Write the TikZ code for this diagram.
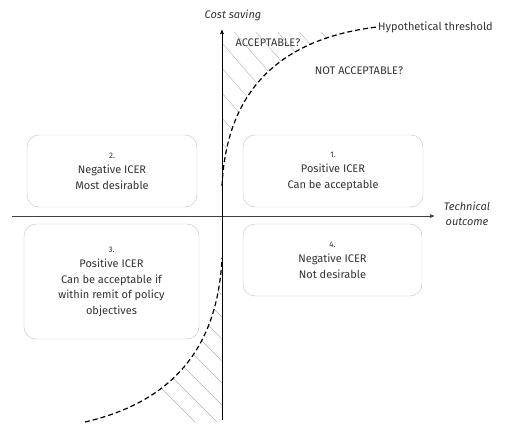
\documentclass[tikz,border=0pt]{standalone}
\usepackage{fontspec}
\setmainfont{Fira Sans}
\usetikzlibrary{arrows,positioning}

\begin{document}
\begin{tikzpicture}[x=1pt,y=-1pt,
	  every node/.style={align=center,text=black!80,font=\fontsize{11}{15.5}\selectfont},
	  quadrant/.style={draw=black!25,rounded corners=12pt,inner sep=0pt},
	  num/.style={font=\fontsize{8}{10}\selectfont},
	  axislabel/.style={font=\fontsize{11}{15}\selectfont\itshape},
	  axis/.style={->,>=stealth',semithick},
	  threshold/.style={line width=1.2pt,dash pattern=on 5pt off 3pt},
	  hatch/.style={draw=black!30,thin}]

	  \useasboundingbox (0,0) rectangle (527,439);

	  % axes
	  \coordinate (ybot) at (222,420);
	  \coordinate (ytop) at (222,30);
	  \coordinate (xleft) at (12,216);
	  \coordinate (xright) at (434,216);
	  \coordinate (cup) at (222,186);
	  \coordinate (clow) at (222,258);
	  \coordinate (cstart) at (85,422);

	  % quadrant boxes
	  \node[quadrant,minimum width=180pt,minimum height=72pt] (box1) at (333,171)
	    {{\fontsize{8}{10}\selectfont 1.}\\Positive ICER\\Can be acceptable};
	  \node[quadrant,minimum width=170pt,minimum height=72pt] (box2) at (112,171)
	    {{\fontsize{8}{10}\selectfont 2.}\\Negative ICER\\Most desirable};
	  \node[quadrant,minimum width=175pt,minimum height=115pt] (box3) at (111.5,281.5)
	    {{\fontsize{8}{10}\selectfont 3.}\\Positive ICER\\Can be acceptable if\\within remit of policy\\objectives};
	  \node[quadrant,minimum width=179pt,minimum height=72pt] (box4) at (332.5,260)
	    {{\fontsize{8}{10}\selectfont 4.}\\Negative ICER\\Not desirable};

	  % labels
	  \node[axislabel] (ylabel) at (233,15) {Cost saving};
	  \node[axislabel] (xlabel) at (467,214) {Technical\\outcome};
	  \node[anchor=west,inner sep=1pt] (thr) at (377,27) {Hypothetical threshold};
	  \node (acc) at (268,43) {ACCEPTABLE?};
	  \node (notacc) at (359,71) {NOT ACCEPTABLE?};

	  % hatching
	  \begin{scope}
	    \clip (cup) .. controls (226,100) and (270,40) .. (thr.west) -- (222,20) -- cycle;
	    \clip (222,32) rectangle (400,190);
	    \foreach \k in {-10,...,8}
	      \draw[hatch] (222,43+25*\k) ++(-100,-115) -- ++(300,345);
	  \end{scope}
	  \begin{scope}
	    \clip (cstart) .. controls (180,400) and (218,340) .. (clow) -- (ybot |- cstart) -- cycle;
	    \foreach \k in {-8,...,6}
	      \draw[hatch] (222,317+22*\k) ++(-150,-150) -- ++(300,300);
	  \end{scope}

	  \draw[axis,black!75] (xleft) -- (xright);
	  \draw[axis] (ybot) -- (ytop);

	  \draw[threshold] (cup) .. controls (226,100) and (270,40) .. (thr.west);
	  \draw[threshold] (cstart) .. controls (180,400) and (218,340) .. (clow);

\end{tikzpicture}
\end{document}
